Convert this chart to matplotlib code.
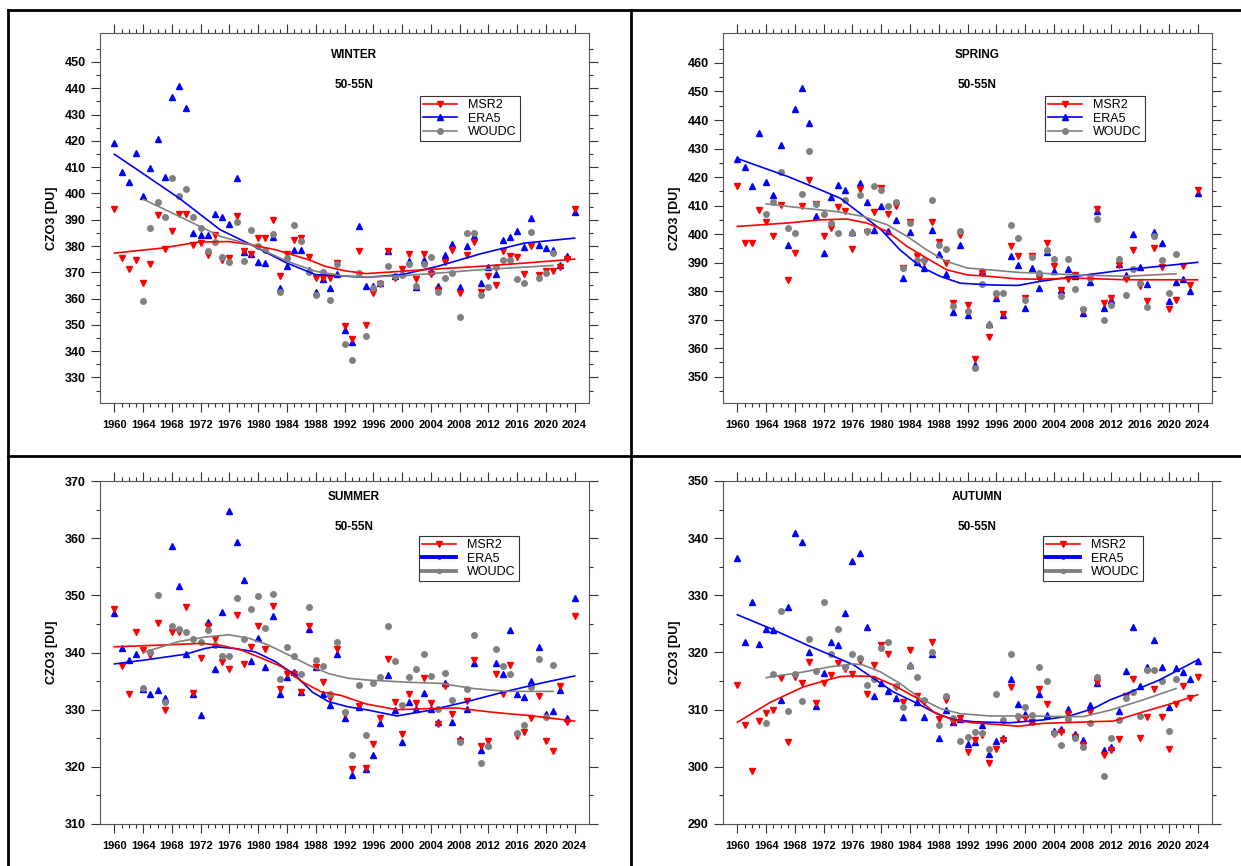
import matplotlib
matplotlib.use("Agg")
import matplotlib.pyplot as plt
from matplotlib.lines import Line2D
from matplotlib.ticker import FixedLocator
import numpy as np

plt.rcParams["font.family"] = ["Liberation Sans", "DejaVu Sans"]
plt.rcParams["font.weight"] = "bold"

W, H = 1241, 866

years = list(range(1960, 2025))
woudc_years = list(range(1964, 2022))

# ---------------- WINTER ----------------
winter_msr2 = [394.0, 375.4, 371.3, 374.7, 366.1, 373.0, 391.9, 378.9, 385.6, 392.1,
               392.1, 380.2, 381.1, 376.7, 384.2, 374.6, 375.4, 391.3, 378.2, 377.0,
               383.0, 383.0, 390.0, 368.5, 377.1, 382.4, 383.0, 375.8, 367.8, 368.0,
               367.8, 373.5, 349.5, 344.7, 378.2, 350.1, 362.2, 365.7, 378.0, 367.8,
               371.3, 376.9, 367.5, 376.9, 369.4, 363.2, 373.8, 378.6, 362.2, 376.7,
               381.5, 362.5, 368.7, 365.3, 378.0, 376.1, 375.7, 369.5, 380.1, 368.9,
               370.6, 370.6, 372.0, 375.2, 394.0]
winter_era5 = [419.1, 408.0, 404.4, 415.3, 399.2, 409.6, 420.6, 406.2, 436.7, 440.9,
               432.5, 385.0, 384.2, 384.2, 392.3, 391.1, 388.2, 405.7, 377.8, 377.1,
               373.9, 373.5, 383.3, 363.9, 372.3, 378.5, 378.5, 371.0, 362.5, 367.6,
               363.9, 369.5, 348.1, 343.4, 387.5, 364.7, 364.7, 365.9, 378.2, 368.5,
               369.8, 374.2, 364.4, 374.8, 370.4, 364.9, 376.7, 380.9, 364.3, 379.9,
               383.7, 365.9, 371.9, 369.4, 382.4, 383.3, 385.6, 379.6, 390.6, 380.5,
               379.2, 378.6, 372.6, 376.1, 392.9]
winter_woudc = [359.2, 386.9, 396.6, 390.9, 405.8, 398.9, 401.8, 391.0, 386.8, 378.2,
                381.5, 375.7, 373.9, 389.0, 374.4, 386.1, 379.9, 378.4, 384.5, 362.4,
                375.3, 387.8, 382.0, 370.0, 361.3, 370.1, 359.4, 373.2, 342.8, 336.8,
                369.8, 345.7, 364.0, 365.9, 372.3, 368.5, 369.0, 373.2, 364.9, 373.2,
                375.7, 362.4, 367.8, 369.8, 353.0, 385.1, 384.9, 361.3, 364.3, 371.9,
                374.6, 374.6, 367.5, 366.1, 385.3, 367.7, 369.6, 377.3]
winter_msr2_fit_x = [1960, 1966.6, 1971.7, 1975.9, 1979, 1982.4, 1987, 1989.3, 1992, 1995, 2000, 2005, 2011, 2017, 2024]
winter_msr2_fit = [377.3, 379.2, 381.5, 381.7, 380.5, 378.6, 374.8, 372.3, 370.6, 369.5, 370.4, 371.3, 372.3, 373.5, 375.0]
winter_era5_fit_x = [1960, 1964, 1969, 1974.7, 1979, 1984, 1988, 1991, 1995, 2000, 2005, 2011, 2017, 2024]
winter_era5_fit = [414.9, 407.5, 398.2, 386.2, 380.5, 373.5, 369.1, 368.7, 368.1, 369.1, 372.3, 377.1, 381.1, 383.0]
winter_woudc_fit_x = [1964, 1969, 1974.7, 1979, 1984, 1988, 1991.6, 1995, 2000, 2005, 2011, 2021]
winter_woudc_fit = [397.8, 391.3, 383.7, 380.5, 374.2, 370.4, 368.7, 368.2, 368.7, 369.7, 371.0, 372.6]

# ---------------- SPRING ----------------
spring_msr2 = [416.9, 396.8, 396.8, 408.3, 404.1, 399.4, 410.3, 384.0, 393.3, 409.7,
               419.0, 410.6, 399.2, 402.1, 409.5, 408.2, 394.7, 415.8, 400.9, 407.7,
               416.1, 407.1, 409.7, 388.1, 404.1, 392.2, 390.4, 404.1, 397.4, 389.8,
               375.8, 399.8, 375.0, 356.2, 386.5, 363.8, 378.4, 372.0, 396.0, 392.5,
               377.6, 392.2, 384.6, 396.8, 388.7, 380.5, 384.2, 385.7, 372.9, 385.0,
               408.8, 375.8, 377.6, 389.3, 384.2, 394.3, 381.7, 376.4, 395.1, 388.3,
               373.7, 376.8, 388.9, 382.0, 415.5]
spring_era5 = [426.5, 423.5, 416.9, 435.6, 418.2, 413.8, 431.1, 396.1, 443.8, 451.2,
               438.9, 406.2, 393.3, 413.0, 417.1, 415.3, 400.6, 417.8, 411.1, 401.5,
               409.9, 401.2, 404.8, 384.5, 400.9, 390.1, 388.0, 401.3, 393.1, 385.9,
               372.7, 396.3, 371.7, 354.0, 387.1, 368.5, 377.6, 371.6, 392.2, 389.3,
               374.1, 388.1, 381.1, 393.6, 387.1, 380.5, 387.7, 385.2, 372.3, 383.1,
               408.0, 374.1, 377.0, 389.5, 385.7, 400.1, 388.3, 382.6, 400.9, 396.8,
               376.6, 383.1, 384.3, 380.0, 414.4]
spring_woudc = [407.0, 411.1, 421.6, 402.0, 400.4, 414.0, 429.2, 410.5, 406.9, 403.9,
                400.4, 411.8, 400.4, 413.8, 401.2, 416.9, 415.3, 409.9, 411.1, 388.1,
                403.9, 391.0, 391.0, 411.8, 396.3, 394.7, 374.9, 401.2, 373.1, 353.0,
                382.4, 368.2, 379.3, 379.3, 403.3, 398.6, 377.0, 392.0, 386.3, 394.3,
                391.4, 378.2, 391.4, 380.7, 373.9, 384.6, 405.4, 370.0, 375.2, 391.4,
                378.7, 387.9, 382.8, 374.3, 399.4, 390.8, 379.3, 393.1]
spring_msr2_fit_x = [1960, 1967, 1971.5, 1975.2, 1978, 1980.8, 1983.6, 1986.3, 1989.1, 1992, 1995, 1999, 2002, 2007, 2014, 2024]
spring_msr2_fit = [402.7, 403.9, 405.0, 405.3, 403.9, 401.0, 395.7, 391.6, 387.5, 385.7, 385.2, 384.3, 384.2, 384.6, 384.0, 384.0]
spring_era5_fit_x = [1960, 1967, 1971, 1974.3, 1977, 1980, 1982.6, 1985.4, 1988.2, 1991, 1995, 1999, 2002, 2007, 2014, 2024]
spring_era5_fit = [426.5, 420.2, 416.1, 412.6, 407.4, 401.5, 394.5, 388.7, 385.2, 382.8, 382.2, 382.0, 383.4, 385.2, 387.5, 390.1]
spring_woudc_fit_x = [1964, 1969.2, 1973.8, 1977.5, 1980.8, 1983.6, 1986.3, 1989.1, 1992, 1995, 1999, 2002, 2007, 2014, 2021]
spring_woudc_fit = [410.6, 409.1, 407.9, 406.2, 403.3, 399.2, 394.5, 390.4, 388.1, 387.5, 386.6, 386.3, 385.7, 385.2, 386.1]

# ---------------- SUMMER ----------------
summer_msr2 = [347.6, 337.7, 332.8, 343.6, 340.4, 339.6, 345.2, 330.0, 343.5, 343.5,
               347.9, 333.0, 339.0, 344.7, 342.3, 338.4, 337.1, 346.6, 338.0, 341.0,
               344.6, 340.6, 348.2, 333.6, 336.3, 336.2, 333.1, 344.6, 337.5, 334.8,
               332.1, 340.6, 329.2, 319.6, 330.6, 319.8, 324.0, 328.6, 338.8, 331.3,
               325.7, 332.7, 331.1, 335.5, 331.2, 327.5, 334.1, 329.3, 324.5, 331.5,
               338.7, 323.7, 324.5, 336.2, 332.8, 337.8, 325.4, 326.1, 328.5, 332.4,
               324.5, 322.8, 334.2, 327.9, 346.4]
summer_era5 = [346.9, 340.7, 338.7, 339.8, 333.6, 332.7, 333.4, 332.0, 358.7, 351.6,
               339.7, 332.7, 329.0, 345.4, 337.2, 347.0, 364.8, 359.4, 352.6, 338.5,
               342.5, 337.5, 346.4, 332.7, 335.8, 336.6, 333.1, 344.1, 337.4, 332.8,
               330.8, 339.8, 328.6, 318.6, 330.4, 319.6, 322.1, 327.7, 336.1, 329.9,
               324.3, 331.3, 330.1, 332.9, 330.1, 327.8, 334.6, 327.8, 324.8, 330.2,
               338.2, 322.9, 324.0, 338.2, 336.2, 343.9, 332.8, 332.3, 335.0, 340.9,
               329.2, 329.7, 333.5, 328.5, 349.5]
summer_woudc = [333.8, 340.1, 350.0, 331.3, 344.6, 344.1, 343.6, 342.3, 341.8, 343.9,
                341.3, 339.4, 339.4, 349.6, 342.3, 347.6, 349.9, 344.2, 350.2, 335.3,
                341.0, 339.4, 336.2, 347.9, 338.7, 337.6, 332.8, 341.9, 329.6, 322.0,
                334.3, 325.5, 334.7, 335.8, 344.6, 338.5, 330.9, 335.8, 337.2, 339.7,
                335.9, 330.1, 336.5, 331.7, 324.4, 333.6, 343.1, 320.7, 323.6, 340.6,
                337.7, 336.3, 326.0, 327.4, 334.0, 338.8, 328.7, 337.8]
summer_msr2_fit_x = [1960, 1966.6, 1972.2, 1975, 1977.7, 1980.5, 1983.3, 1986.1, 1988.8, 1991.5, 1995, 1999.3, 2003.9, 2007.6, 2012.2, 2018.2, 2024]
summer_msr2_fit = [341.0, 341.3, 341.6, 341.2, 340.4, 339.0, 337.5, 334.9, 333.1, 332.5, 331.0, 330.0, 330.2, 330.3, 329.6, 328.9, 328.0]
summer_era5_fit_x = [1960, 1964.3, 1969.9, 1972.6, 1974, 1976.8, 1979.6, 1982.4, 1985.1, 1987.5, 1989.8, 1992.5, 1995, 1999.3, 2003.9, 2009, 2014.5, 2019.2, 2024]
summer_era5_fit = [338.0, 338.7, 339.7, 340.7, 341.0, 340.7, 340.1, 338.4, 336.1, 333.1, 331.4, 330.5, 330.0, 328.9, 329.9, 331.4, 333.2, 334.6, 335.9]
summer_woudc_fit_x = [1964, 1968.9, 1972.6, 1975.9, 1978.7, 1981.4, 1984.2, 1987, 1989.8, 1992.5, 1995, 2000.7, 2005.3, 2009.9, 2014.5, 2021]
summer_woudc_fit = [340.0, 341.9, 342.7, 343.1, 342.5, 341.3, 339.6, 337.8, 336.3, 335.5, 335.2, 334.8, 334.6, 333.7, 333.2, 333.2]

# ---------------- AUTUMN ----------------
autumn_msr2 = [314.3, 307.3, 299.3, 308.1, 309.5, 309.9, 315.5, 304.4, 315.8, 314.7,
               318.3, 311.2, 314.6, 316.1, 318.1, 317.2, 316.2, 318.5, 312.8, 317.9,
               321.3, 319.8, 314.0, 311.3, 320.4, 312.4, 311.3, 321.9, 308.3, 311.7,
               307.8, 308.5, 302.6, 304.7, 305.5, 300.6, 303.2, 304.7, 314.0, 308.5,
               308.5, 307.8, 313.6, 311.0, 305.8, 306.1, 309.2, 305.2, 303.9, 309.6,
               314.9, 302.0, 303.0, 304.8, 312.4, 315.4, 305.1, 308.7, 313.6, 308.7,
               303.2, 311.0, 314.2, 312.0, 315.8]
autumn_era5 = [336.6, 321.9, 328.8, 321.5, 324.1, 323.9, 311.7, 327.9, 340.9, 339.3,
               320.0, 310.6, 316.5, 321.8, 321.3, 326.9, 336.0, 337.4, 324.5, 312.4,
               314.6, 313.2, 312.0, 308.7, 317.8, 311.4, 308.7, 319.8, 305.0, 309.9,
               307.9, 308.3, 304.0, 304.4, 307.4, 302.3, 304.5, 305.1, 315.3, 311.0,
               309.2, 308.0, 312.8, 309.0, 306.2, 306.6, 310.2, 305.7, 304.7, 310.9,
               314.7, 303.0, 303.5, 309.7, 316.8, 324.5, 314.2, 317.4, 322.2, 317.4,
               310.5, 317.3, 316.6, 315.3, 318.5]
autumn_woudc = [307.6, 316.3, 327.3, 309.7, 316.2, 311.5, 322.3, 316.8, 328.9, 319.8,
                324.1, 317.4, 319.7, 319.1, 314.4, 315.3, 320.8, 321.8, 314.1, 310.4,
                317.7, 315.8, 311.7, 320.1, 307.3, 312.4, 308.5, 304.5, 305.3, 306.1,
                305.9, 303.1, 312.8, 308.2, 319.8, 308.9, 310.5, 309.0, 317.4, 315.1,
                306.0, 303.9, 308.3, 305.0, 303.4, 307.6, 315.7, 298.4, 305.0, 308.2,
                312.0, 313.1, 308.9, 316.9, 316.9, 315.1, 306.2, 315.3]
autumn_msr2_fit_x = [1960, 1964.6, 1969.2, 1972, 1974.3, 1976.2, 1978.9, 1981.7, 1985, 1987.3, 1990, 1992.8, 1995.1, 1999.1, 2002.5, 2009.5, 2012.3, 2016.4, 2021, 2024]
autumn_msr2_fit = [307.8, 311.3, 314.0, 315.0, 315.8, 315.9, 315.8, 314.3, 312.0, 309.6, 308.2, 307.7, 307.5, 307.1, 307.6, 307.9, 308.0, 309.6, 311.3, 312.6]
autumn_era5_fit_x = [1960, 1964.6, 1969.7, 1972.9, 1976.2, 1978.9, 1981.7, 1985, 1987.7, 1990, 1992.8, 1995.1, 1997.9, 2002.5, 2006.2, 2009.5, 2011.8, 2014.1, 2018.7, 2024]
autumn_era5_fit = [326.6, 324.2, 321.3, 319.6, 317.8, 315.5, 313.1, 311.1, 309.3, 308.3, 307.9, 307.8, 307.7, 308.2, 308.9, 310.2, 311.7, 312.8, 315.2, 318.7]
autumn_woudc_fit_x = [1964, 1969.2, 1972.9, 1976.2, 1977.5, 1979.9, 1982.6, 1985.4, 1988.2, 1991, 1995.1, 2000.2, 2004.9, 2008.1, 2011.8, 2016.4, 2021]
autumn_woudc_fit = [315.6, 316.6, 317.5, 318.0, 317.8, 316.6, 314.6, 312.0, 310.2, 309.3, 308.9, 308.9, 308.8, 308.8, 309.9, 311.7, 313.7]

RED, BLUE, GRAY = "#ff0000", "#0000ff", "#808080"

panels = [
    dict(name="WINTER", box=(100, 33, 589, 403), ylim=(320.3, 461), yt=range(330, 451, 10),
         yminor=range(325, 461, 5), title_y=(55, 85), leg=(420, 96), thick=False,
         msr2=winter_msr2, era5=winter_era5, woudc=winter_woudc,
         fits=[(winter_era5_fit_x, winter_era5_fit, BLUE), (winter_msr2_fit_x, winter_msr2_fit, RED),
               (winter_woudc_fit_x, winter_woudc_fit, GRAY)]),
    dict(name="SPRING", box=(723, 33, 1212, 403), ylim=(340.8, 470.5), yt=range(350, 461, 10),
         yminor=range(345, 471, 5), title_y=(55, 85), leg=(1045, 96), thick=False,
         msr2=spring_msr2, era5=spring_era5, woudc=spring_woudc,
         fits=[(spring_era5_fit_x, spring_era5_fit, BLUE), (spring_msr2_fit_x, spring_msr2_fit, RED),
               (spring_woudc_fit_x, spring_woudc_fit, GRAY)]),
    dict(name="SUMMER", box=(100, 481, 589, 824), ylim=(310, 370), yt=range(310, 371, 10),
         yminor=range(315, 370, 5), title_y=(497, 527), leg=(419, 536), thick=True,
         msr2=summer_msr2, era5=summer_era5, woudc=summer_woudc,
         fits=[(summer_era5_fit_x, summer_era5_fit, BLUE), (summer_msr2_fit_x, summer_msr2_fit, RED),
               (summer_woudc_fit_x, summer_woudc_fit, GRAY)]),
    dict(name="AUTUMN", box=(723, 481, 1212, 824), ylim=(290, 350), yt=range(290, 351, 10),
         yminor=range(295, 350, 5), title_y=(497, 527), leg=(1043, 536), thick=True,
         msr2=autumn_msr2, era5=autumn_era5, woudc=autumn_woudc,
         fits=[(autumn_era5_fit_x, autumn_era5_fit, BLUE), (autumn_msr2_fit_x, autumn_msr2_fit, RED),
               (autumn_woudc_fit_x, autumn_woudc_fit, GRAY)]),
]

fig = plt.figure(figsize=(W / 100, H / 100), dpi=100)

for p in panels:
    l, t, r, b = p["box"]
    ax = fig.add_axes([l / W, 1 - b / H, (r - l) / W, (b - t) / H])

    ax.plot(years, p["era5"], ls="none", marker="^", ms=3.9, color=BLUE, zorder=3)
    ax.plot(years, p["msr2"], ls="none", marker="v", ms=3.9, color=RED, zorder=3)
    ax.plot(woudc_years, p["woudc"], ls="none", marker="o", ms=4.0, color=GRAY, zorder=3)
    for fx, fy, c in p["fits"]:
        ax.plot(fx, fy, color=c, lw=1.2, zorder=4)

    ax.set_xlim(1958, 2026)
    ax.set_ylim(*p["ylim"])
    ax.xaxis.set_major_locator(FixedLocator(range(1960, 2025, 4)))
    ax.xaxis.set_minor_locator(FixedLocator([y for y in range(1960, 2025) if y % 4]))
    ax.yaxis.set_major_locator(FixedLocator(list(p["yt"])))
    ax.yaxis.set_minor_locator(FixedLocator([v for v in p["yminor"] if v % 10]))

    ax.tick_params(axis="x", which="both", direction="out", top=True, bottom=True,
                   labelsize=8, pad=6, colors="#333333", labelcolor="black")
    ax.tick_params(axis="x", which="major", length=6.5, width=0.8)
    ax.tick_params(axis="x", which="minor", length=3.2, width=0.8)
    ax.tick_params(axis="y", which="both", direction="out", left=True, right=True,
                   labelsize=9, pad=4, colors="#333333", labelcolor="black")
    ax.tick_params(axis="y", which="major", length=6.2, width=0.8)
    ax.tick_params(axis="y", which="minor", length=3.2, width=0.8)
    for s in ax.spines.values():
        s.set_color("#555555")
        s.set_linewidth(0.8)

    fig.text(l / W - 48 / W, 1 - (t + b) / 2 / H, "CZO3 [DU]", rotation=90,
             ha="center", va="center", fontsize=9, fontweight="bold")
    cx = (l + 254) / W
    fig.text(cx, 1 - p["title_y"][0] / H, p["name"], ha="center", va="center",
             fontsize=8.5, fontweight="bold")
    fig.text(cx, 1 - p["title_y"][1] / H, "50-55N", ha="center", va="center",
             fontsize=8.5, fontweight="bold")

    lw2 = 2.8 if p["thick"] else 1.2
    handles = [
        Line2D([], [], color=RED, lw=1.2, marker="v", ms=4),
        Line2D([], [], color=BLUE, lw=lw2, marker="^", ms=4 if not p["thick"] else 2),
        Line2D([], [], color=GRAY, lw=lw2, marker="o", ms=4 if not p["thick"] else 3),
    ]
    lx, ly = p["leg"]
    leg = ax.legend(handles, ["MSR2", "ERA5", "WOUDC"], loc="upper left",
                    bbox_to_anchor=(lx / W, 1 - ly / H), bbox_transform=fig.transFigure,
                    prop={"weight": "normal", "size": 9}, frameon=True, fancybox=False,
                    edgecolor="black", borderpad=0.25, labelspacing=0.12,
                    handlelength=2.7, handletextpad=0.9, borderaxespad=0)
    leg.get_frame().set_linewidth(0.8)

# panel frame lines
frame = [((8, 8), (10, 866)), ((631, 631), (10, 866)), ((8, 1241), (10, 10)), ((8, 1241), (456, 456))]
for xs, ys in frame:
    fig.add_artist(Line2D([x / W for x in xs], [1 - y / H for y in ys], color="black", lw=2))

fig.savefig("out.png", dpi=100)
